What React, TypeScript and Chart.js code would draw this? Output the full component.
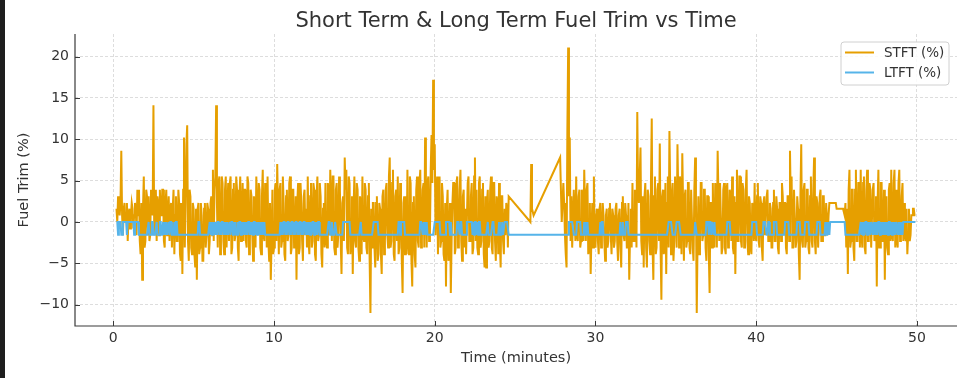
import React, { useEffect, useRef } from "react";
import { Chart, registerables } from "chart.js";

Chart.register(...registerables);

// LTFT low level (%)
const L = -1.56;

// Sampling of the two dense logging segments (minutes)
const SEG1_START = 0.2;
const SEG2_START = 28.0;
const SAMPLE_STEP = 0.05;

// STFT (%) samples, segment 1: 0.2 .. 24.6 min (one row = one minute)
const STFT_SEG1 = [
  1.6, 0.0, 3.1, 1.6, 0.8, 2.3, 8.6, 0.8, -1.6, 1.6, 2.3, 0.0, 0.8, 2.3, -2.3, 0.8, 1.6, -0.8, 0.8, 2.3,
  1.6, -0.8, 0.8, 2.3, 1.6, -1.6, 3.9, 0.8, 3.9, -2.3, -3.9, 2.3, -7.0, 1.6, 5.5, -3.1, -2.3, 3.9, 3.1, -1.6,
  3.1, -2.3, -1.6, 3.9, 3.1, 0.8, 14.1, -1.6, 1.6, 3.9, -2.3, 3.1, 2.3, -1.6, 3.9, 0.8, 0.8, 3.9, 3.9, -2.3,
  -3.1, 2.3, 3.9, -1.6, 0.8, 3.1, -2.3, 1.6, 2.3, -3.1, 1.6, 3.9, -3.9, 0.8, 3.1, -2.3, -2.3, 3.9, 2.3, -3.9,
  -4.7, 2.3, -6.3, 3.9, 10.2, -3.1, 2.3, 9.4, 11.7, -2.3, -4.7, 3.9, 3.1, -3.1, -3.9, 2.3, 1.6, -3.9, -5.5, 1.6,
  -7.0, 1.6, 2.3, -3.9, -3.1, 2.3, 0.8, -4.7, -4.7, 1.6, 2.3, -3.1, -1.6, 2.3, 1.6, -3.9, -2.3, 2.3, 3.1, -1.6,
  6.3, -2.3, 3.9, 5.5, 14.1, 2.3, -3.1, 4.7, 5.5, -3.9, -1.6, 5.5, 4.7, -2.3, -3.9, 3.9, 5.5, -3.1, 1.6, 4.7,
  -2.3, 4.7, 5.5, -3.9, -3.1, 3.9, 4.7, -2.3, -1.6, 5.5, 3.9, -3.1, -4.7, 3.1, 5.5, -2.3, 0.8, 4.7, -2.3, 3.9,
  3.9, -2.3, -3.1, 5.5, 4.7, -3.9, -2.3, 3.9, 3.1, -1.6, -4.7, 3.1, 2.3, -3.1, 5.5, 0.8, -1.6, 4.7, 3.9, -3.1,
  -3.9, 3.1, 6.3, -1.6, -2.3, 4.7, 3.1, -3.1, 5.5, -2.3, -4.7, 2.3, -7.0, -2.3, 3.9, -3.9, -3.1, 3.9, 4.7, -2.3,
  7.0, 1.6, -3.9, 3.9, 4.7, -3.1, -2.3, 5.5, 2.3, -3.9, -4.7, 3.1, 3.9, -2.3, -1.6, 4.7, 5.5, -3.9, -3.1, 3.9,
  3.9, -3.1, -2.3, 3.1, -7.0, 2.3, 4.7, -3.9, -3.1, 4.7, 2.3, -2.3, -4.7, 3.1, 3.9, -1.6, 1.6, -3.1, 5.5, -2.3,
  -3.9, 3.1, 4.7, -3.1, -2.3, 4.7, 3.9, -3.9, -4.7, 3.1, 5.5, -2.3, -1.6, 4.7, 3.1, -3.9, -5.5, 1.6, 2.3, -3.1,
  4.7, -2.3, -3.1, 4.7, 3.9, -1.6, 6.3, 2.3, -2.3, 5.5, 5.5, -3.1, -3.9, 3.9, 4.7, -3.1, -1.6, 5.5, 3.9, -2.3,
  -6.3, 2.3, 3.1, -2.3, 7.8, 3.9, 6.3, -3.1, -3.9, 5.5, 4.7, -3.9, -2.3, 3.1, -6.3, 1.6, 5.5, -2.3, -3.1, 4.7,
  3.9, -3.1, -4.7, 3.1, 2.3, -3.9, 5.5, -1.6, -2.3, 4.7, 3.9, -3.1, -3.9, 3.1, 4.7, -4.7, -11.0, 1.6, -3.1, 2.3,
  2.3, -3.1, -5.5, 2.3, 3.1, -4.7, -3.9, 2.3, 1.6, -3.9, -6.3, 3.1, 3.9, -3.9, -2.3, 3.9, 4.7, -1.6, -3.1, 5.5,
  7.8, -3.1, -2.3, 4.7, 6.3, -3.9, -4.7, 3.1, 3.9, -2.3, 5.5, -3.9, -3.1, 4.7, 2.3, -4.7, -8.6, 2.3, 3.1, -3.9,
  3.1, -3.9, 6.3, -2.3, -3.9, 5.5, 4.7, -4.7, -7.8, 2.3, 3.1, -3.9, -5.5, 3.9, 5.5, -2.3, -3.1, 4.7, 6.3, -3.1,
  -2.3, 3.9, 4.7, -3.1, 10.2, 2.3, -3.1, 4.7, 5.5, -2.3, -1.6, 6.3, 10.5, 4.7, 17.2, 6.3, 9.4, -1.6, 3.1, 5.5,
  -3.9, 3.1, 5.5, -3.1, -2.3, 4.7, 3.1, -3.9, -4.7, 2.3, -7.8, 1.6, 3.9, -4.7, -3.1, 2.3, -8.6, -2.3, 2.3, 4.7,
  4.7, -3.9, -3.1, 4.7, 5.5, -3.1, -2.3, 3.9, 6.3, -2.3, -4.7, 3.1, 3.9, -3.1, 1.6, -3.9, -3.9, 4.7, 5.5, -2.3,
  -2.3, 3.1, 4.7, -3.9, -3.1, 5.5, 7.8, -2.3, 3.9, -3.1, -3.9, 4.7, 5.5, -3.1, -2.3, 3.9, 4.7, -3.9, -5.5, 3.1,
  -5.5, 2.3, 3.9, -3.1, -2.3, 3.9, 5.5, -3.1, -3.9, 4.7, 4.7, -2.3, -4.7, 3.1, 2.3, -3.9, 4.7, -2.3, -5.5, 3.1,
  3.1, -2.3, -3.9, 1.6, -1.6, 2.3, 1.6, -3.1, 3.1,
];

// LTFT (%) samples, segment 1
const LTFT_SEG1 = [
  0, 0, L, 0, 0, 0, L, L, 0, 0, 0, 0, 0, L, 0, 0, 0, 0, 0, 0,
  0, 0, L, 0, 0, 0, 0, 0, L, L, L, L, L, L, L, L, L, L, L, L,
  0, L, L, L, 0, 0, L, L, L, L, 0, L, L, L, 0, 0, L, L, 0, L,
  0, L, 0, L, L, 0, L, 0, 0, L, L, L, 0, L, 0, 0, L, L, L, L,
  L, L, L, L, L, L, L, L, L, L, L, L, L, L, L, L, L, L, L, L,
  L, L, 0, 0, L, L, L, L, L, L, L, L, L, L, L, L, 0, L, 0, L,
  0, L, 0, L, 0, L, 0, 0, L, 0, L, 0, 0, L, 0, L, 0, L, 0, L,
  L, 0, L, 0, 0, L, 0, L, 0, L, L, 0, L, 0, 0, L, 0, L, 0, L,
  0, L, 0, L, 0, 0, L, 0, L, 0, L, 0, 0, L, 0, L, 0, L, 0, L,
  0, L, 0, L, 0, L, L, L, L, L, L, L, L, L, L, L, L, L, L, L,
  L, L, L, L, 0, L, 0, L, 0, 0, L, 0, L, 0, 0, L, 0, L, 0, 0,
  L, 0, L, 0, 0, L, 0, L, 0, 0, L, 0, L, 0, 0, L, 0, L, 0, L,
  0, L, 0, L, 0, 0, L, 0, L, 0, L, 0, 0, L, L, L, L, L, L, L,
  L, L, L, L, 0, 0, L, L, 0, L, L, L, 0, 0, L, L, L, L, L, L,
  L, L, 0, 0, 0, 0, 0, 0, 0, 0, 0, L, L, L, L, L, L, L, L, L,
  L, L, L, L, 0, L, L, L, L, L, L, L, L, L, L, L, L, L, L, L,
  0, 0, 0, 0, 0, 0, L, L, L, L, L, L, L, L, L, L, L, L, L, L,
  L, L, L, L, L, L, L, L, L, L, L, 0, 0, L, 0, 0, 0, 0, 0, L,
  L, L, L, L, L, L, L, L, L, L, L, L, L, L, L, L, L, L, 0, 0,
  0, L, 0, L, 0, L, 0, L, L, L, L, L, L, L, L, L, 0, 0, 0, 0,
  0, 0, 0, L, L, L, L, L, L, L, 0, 0, 0, 0, 0, L, 0, L, L, L,
  L, L, L, L, 0, 0, 0, L, 0, 0, L, L, L, L, L, L, 0, 0, 0, 0,
  0, 0, 0, L, 0, L, 0, 0, L, 0, L, 0, 0, L, L, L, L, L, L, L,
  L, L, 0, L, L, L, L, L, 0, 0, L, L, L, L, L, L, 0, L, L, L,
  0, L, L, 0, 0, 0, 0, 0, L,
];

// Sparse samples between the two segments
const GAP_TIMES = [25.95, 26.0, 26.05, 26.15, 27.8, 27.9];
const STFT_GAP = [0.0, 7.0, 1.6, 0.8, 7.8, 0.0];
const LTFT_GAP = [L, L, L, L, L, L];

// STFT (%) samples, segment 2: 28.0 .. 49.9 min (one row = one minute)
const STFT_SEG2 = [
  4.7, 2.3, -1.6, -3.9, -5.5, 10.9, 21.1, 3.1, 10.2, -2.3, 3.1, -3.1, -3.1, 3.9, 0.8, -2.3, 5.5, -1.6, -2.3, 3.1,
  3.9, -3.1, -2.3, 3.9, 3.1, -2.3, 6.3, 1.6, -2.3, 3.9, 4.7, -3.9, -3.1, 2.3, -6.3, -1.6, 2.3, -3.1, 5.5, -2.3,
  -3.1, 0.8, 1.6, -2.3, -3.9, 1.6, 2.3, -3.1, -1.6, 2.3, 0.8, -2.3, -4.7, 0.8, 1.6, -3.1, -2.3, 1.6, 2.3, -1.6,
  -3.9, 1.6, 0.8, -3.1, -2.3, 1.6, 2.3, -2.3, -4.7, 0.8, 1.6, -3.1, -5.5, 2.3, 3.1, -1.6, -2.3, 2.3, 0.8, -3.1,
  -3.1, 2.3, -7.0, -1.6, 1.6, -3.1, 4.7, -2.3, -2.3, 3.9, 3.1, -3.1, 13.3, 3.9, 2.3, 5.5, 9.0, -2.3, -3.9, 3.1,
  -5.5, 3.1, 4.7, -3.1, -5.5, 3.9, 3.1, -2.3, -3.9, 4.7, 12.5, -3.1, -7.0, 3.1, 5.5, -3.9, -3.1, 3.9, 4.7, -2.3,
  9.5, -3.1, -9.4, 3.1, 3.9, -3.9, -3.1, 4.7, -6.3, 2.3, 5.5, -3.1, 11.0, 3.9, -3.9, 3.1, 4.7, -4.7, -2.3, 5.5,
  5.5, -3.1, 9.4, 3.1, -3.1, 5.5, 4.7, -3.9, 8.3, 2.3, -4.7, 3.1, 3.9, -3.1, -2.3, 4.7, 4.7, -3.1, -3.9, 3.9,
  3.9, -3.1, -4.7, 3.9, 7.8, 2.3, -11.0, -2.3, 3.1, -3.9, -3.1, 4.7, 4.7, -2.3, -1.6, 3.9, 3.9, -3.1, -4.7, 3.1,
  3.1, -3.9, -8.6, 2.3, 2.3, -3.1, 4.7, -2.3, -3.1, 4.7, 3.9, -3.1, 8.6, 3.1, -2.3, 4.7, 4.7, -3.9, -3.1, 3.9,
  4.7, -3.1, -3.9, 3.9, 4.7, -3.1, -2.3, 3.9, 3.1, -2.3, 5.5, -3.1, -3.9, 3.1, -6.3, 2.3, 6.3, -2.3, -2.3, 5.5,
  5.5, -2.3, -3.1, 4.7, 3.9, -3.1, -1.6, 3.9, 6.3, -2.3, -3.9, 3.1, 2.3, -3.1, -3.9, 2.3, 1.6, -2.3, 4.7, -1.6,
  -2.3, 3.1, 4.7, -2.3, -3.1, 3.1, 2.3, -3.1, -4.7, 2.3, 3.1, -1.6, -1.6, 3.1, 3.9, -2.3, -2.3, 2.3, 1.6, -3.1,
  -3.1, 2.3, 3.9, -2.3, -2.3, 3.1, 1.6, -3.1, -3.9, 2.3, 2.3, -2.3, 4.7, 3.1, -1.6, 2.3, 2.3, -3.1, -3.9, 3.1,
  3.1, -2.3, 8.6, 2.3, 5.5, -3.1, -3.1, 3.9, 3.9, -3.1, -2.3, 3.1, 1.6, -3.9, -7.0, 3.1, 9.4, -2.3, -3.1, 3.9,
  4.7, -3.1, -2.3, 3.9, 3.9, -3.1, -3.9, 3.1, 5.5, -2.3, -3.1, 3.9, 7.8, -2.3, -3.9, 3.1, 2.3, -3.1, -3.1, 3.1,
  3.9, -2.3, -2.3, 3.1, 3.1, -1.6, -1.6, 2.3, 2.3, -1.6, 0.8, 2.3, 2.3, 2.3, 2.3, 2.3, 2.3, 2.3, 2.3, 2.3,
  1.6, 1.6, 1.6, 1.6, 1.6, 1.6, 1.6, 1.6, 1.6, 1.6, 0.8, 2.3, -3.1, 1.6, -6.3, 3.9, 6.3, -3.1, -2.3, 3.9,
  3.9, -3.1, -4.7, 3.9, 6.3, -2.3, -2.3, 4.7, 4.7, -3.1, 6.3, -1.6, -3.1, 4.7, 5.5, -3.1, -3.9, 3.9, 6.3, -2.3,
  -2.3, 4.7, 3.9, -3.1, -3.1, 3.9, 4.7, -2.3, -1.6, 3.1, -7.8, 2.3, 6.3, -3.1, -3.1, 4.7, 4.7, -2.3, -2.3, 3.9,
  -7.0, 2.3, 3.1, -3.1, -3.9, 3.9, 4.7, -2.3, 6.3, -1.6, -2.3, 4.7, 6.3, -3.1, 3.9, -2.3, -3.1, 4.7, 6.3, -2.3,
  -1.6, 3.1, 4.7, -2.3, 2.3, -1.6, -2.3, 1.6, -3.9, -1.6, 1.6, -2.3, -1.6, 0.8, 0.8, 1.6, 1.6, 0.8, 0.8,
];

// LTFT (%) samples, segment 2
const LTFT_SEG2 = [
  L, L, L, L, L, L, L, 0, 0, 0, 0, 0, 0, L, L, L, L, 0, 0, 0,
  0, 0, L, L, L, L, 0, L, 0, L, 0, L, L, L, L, L, L, L, L, L,
  L, L, L, L, L, L, 0, L, 0, 0, L, L, L, L, L, L, L, L, L, L,
  L, L, L, L, L, L, L, L, L, L, L, 0, L, L, 0, L, L, L, 0, 0,
  0, L, L, L, L, L, L, L, L, L, L, L, L, L, L, L, L, L, L, L,
  L, L, L, L, L, L, L, L, L, L, L, L, L, L, L, L, L, L, L, L,
  L, L, L, L, L, L, L, L, L, L, L, 0, 0, 0, 0, 0, L, L, L, L,
  L, 0, 0, 0, 0, 0, L, L, L, L, L, L, L, L, L, L, L, L, L, L,
  L, L, L, L, 0, 0, L, L, L, L, L, L, L, L, L, L, L, L, 0, 0,
  0, L, 0, 0, L, 0, 0, L, 0, L, L, L, L, L, L, L, L, L, L, L,
  L, L, L, L, 0, 0, 0, 0, L, L, L, L, L, L, L, L, L, L, L, L,
  L, L, L, L, L, L, L, L, L, L, L, L, L, L, L, 0, 0, 0, 0, 0,
  0, L, L, L, L, L, L, L, L, 0, 0, 0, 0, L, L, 0, 0, L, L, L,
  L, L, 0, 0, 0, 0, L, L, L, L, L, L, L, L, L, L, 0, 0, 0, 0,
  0, L, L, L, L, L, L, L, L, L, L, 0, 0, 0, 0, L, L, L, L, L,
  L, 0, 0, 0, 0, 0, L, L, L, L, L, L, L, L, L, L, 0, 0, 0, 0,
  L, L, L, L, L, L, 0, L, 0, L, 0, L, 0, 0, 0, 0, 0, 0, 0, 0,
  0, 0, 0, 0, 0, 0, 0, 0, 0, 0, 0, L, L, L, L, L, L, L, L, L,
  L, L, L, L, L, L, L, L, L, L, 0, L, 0, L, 0, L, 0, 0, L, 0,
  L, 0, L, 0, 0, L, 0, L, 0, L, 0, L, 0, 0, L, 0, L, 0, L, 0,
  L, 0, L, 0, L, 0, 0, L, 0, L, 0, L, 0, L, 0, 0, L, 0, L, 0,
  L, 0, L, 0, 0, 0, 0, 0, 0, 0, 0, 0, 0, 0, 0, 0, 0, 0, 0,
];

const X_TICKS = [0, 10, 20, 30, 40, 50];
const Y_TICKS = [-10, -5, 0, 5, 10, 15, 20];

const TITLE = "Short Term & Long Term Fuel Trim vs Time";
const X_LABEL = "Time (minutes)";
const Y_LABEL = "Fuel Trim (%)";
const SERIES_NAMES = ["STFT (%)", "LTFT (%)"];
const COLORS = ["#E69F00", "#56B4E9"];

const FONT = "'DejaVu Sans', 'Liberation Sans', sans-serif";
const TEXT = "#333333";
const SPINE = "#3a3a3a";

function buildPoints(which: "s" | "l") {
  const pts: { x: number; y: number }[] = [];
  const s1 = which === "s" ? STFT_SEG1 : LTFT_SEG1;
  const g = which === "s" ? STFT_GAP : LTFT_GAP;
  const s2 = which === "s" ? STFT_SEG2 : LTFT_SEG2;
  s1.forEach((v, i) => pts.push({ x: +(SEG1_START + i * SAMPLE_STEP).toFixed(3), y: v }));
  g.forEach((v, i) => pts.push({ x: GAP_TIMES[i], y: v }));
  s2.forEach((v, i) => pts.push({ x: +(SEG2_START + i * SAMPLE_STEP).toFixed(3), y: v }));
  return pts;
}

const decorPlugin = {
  id: "decor",
  beforeDraw(chart: any) {
    const ctx = chart.ctx;
    ctx.save();
    ctx.fillStyle = "#ffffff";
    ctx.fillRect(0, 0, chart.width, chart.height);
    ctx.fillStyle = "#1e1e1e";
    ctx.fillRect(0, 0, 5, chart.height);
    ctx.restore();
  },
  afterDraw(chart: any) {
    const ctx = chart.ctx;
    const { left, right, top, bottom } = chart.chartArea;
    const xs = chart.scales.x;
    const ys = chart.scales.y;
    ctx.save();
    // spines (left & bottom)
    ctx.strokeStyle = SPINE;
    ctx.lineWidth = 1.2;
    ctx.beginPath();
    ctx.moveTo(left, top);
    ctx.lineTo(left, bottom);
    ctx.lineTo(right, bottom);
    ctx.stroke();
    // inward ticks
    ctx.lineWidth = 1;
    X_TICKS.forEach((t) => {
      const px = Math.round(xs.getPixelForValue(t)) + 0.5;
      ctx.beginPath();
      ctx.moveTo(px, bottom);
      ctx.lineTo(px, bottom - 5);
      ctx.stroke();
    });
    Y_TICKS.forEach((t) => {
      const py = Math.round(ys.getPixelForValue(t)) + 0.5;
      ctx.beginPath();
      ctx.moveTo(left, py);
      ctx.lineTo(left + 5, py);
      ctx.stroke();
    });
    // title
    ctx.fillStyle = TEXT;
    ctx.font = `21px ${FONT}`;
    ctx.textAlign = "center";
    ctx.textBaseline = "alphabetic";
    ctx.fillText(TITLE, (left + right) / 2, 26.5);
    // legend
    const bx = 841, by = 42, bw = 108, bh = 43, r = 3;
    ctx.beginPath();
    ctx.moveTo(bx + r, by);
    ctx.lineTo(bx + bw - r, by);
    ctx.arcTo(bx + bw, by, bx + bw, by + r, r);
    ctx.lineTo(bx + bw, by + bh - r);
    ctx.arcTo(bx + bw, by + bh, bx + bw - r, by + bh, r);
    ctx.lineTo(bx + r, by + bh);
    ctx.arcTo(bx, by + bh, bx, by + bh - r, r);
    ctx.lineTo(bx, by + r);
    ctx.arcTo(bx, by, bx + r, by, r);
    ctx.closePath();
    ctx.fillStyle = "rgba(255,255,255,0.85)";
    ctx.fill();
    ctx.strokeStyle = "#d0d0d0";
    ctx.lineWidth = 1;
    ctx.stroke();
    ctx.font = `13.5px ${FONT}`;
    ctx.textAlign = "left";
    ctx.textBaseline = "middle";
    SERIES_NAMES.forEach((name, i) => {
      const y = 52.5 + i * 20;
      ctx.strokeStyle = COLORS[i];
      ctx.lineWidth = 2;
      ctx.beginPath();
      ctx.moveTo(845, y);
      ctx.lineTo(874, y);
      ctx.stroke();
      ctx.fillStyle = TEXT;
      ctx.fillText(name, 884, y + 0.5);
    });
    ctx.restore();
  },
};

export default function App() {
  const ref = useRef<HTMLCanvasElement | null>(null);

  useEffect(() => {
    if (!ref.current) return;
    const chart = new Chart(ref.current, {
      type: "line",
      data: {
        datasets: [
          {
            label: SERIES_NAMES[0],
            data: buildPoints("s"),
            borderColor: COLORS[0],
            backgroundColor: COLORS[0],
            borderWidth: 2,
            pointRadius: 0,
            tension: 0,
            order: 1,
          },
          {
            label: SERIES_NAMES[1],
            data: buildPoints("l"),
            borderColor: COLORS[1],
            backgroundColor: COLORS[1],
            borderWidth: 2,
            pointRadius: 0,
            tension: 0,
            order: 0,
          },
        ],
      },
      options: {
        animation: false,
        responsive: false,
        devicePixelRatio: 1,
        layout: { padding: { left: 0, right: 8, top: 34, bottom: 0 } },
        plugins: {
          legend: { display: false },
          title: { display: false },
          tooltip: { enabled: false },
        },
        scales: {
          x: {
            type: "linear",
            min: -2.38,
            max: 52.49,
            afterBuildTicks: (s: any) => {
              s.ticks = X_TICKS.map((v) => ({ value: v }));
            },
            afterFit: (s: any) => {
              s.height = 52;
            },
            ticks: {
              font: { family: FONT, size: 14 },
              color: TEXT,
              padding: 4,
              maxRotation: 0,
              autoSkip: false,
            },
            grid: { color: "#d4d4d4", lineWidth: 0.8, drawTicks: false },
            border: { display: false, dash: [3, 2] },
            title: {
              display: true,
              text: X_LABEL,
              font: { family: FONT, size: 14.5 },
              color: TEXT,
              padding: { top: 0, bottom: 11.3 },
            },
          },
          y: {
            type: "linear",
            min: -12.58,
            max: 22.73,
            afterBuildTicks: (s: any) => {
              s.ticks = Y_TICKS.map((v) => ({ value: v }));
            },
            afterFit: (s: any) => {
              s.width = 75;
            },
            ticks: {
              font: { family: FONT, size: 14 },
              color: TEXT,
              padding: 6,
              autoSkip: false,
              callback: (v: any) => (Number(v) < 0 ? "\u2212" + Math.abs(Number(v)) : String(v)),
            },
            grid: { color: "#d4d4d4", lineWidth: 0.8, drawTicks: false },
            border: { display: false, dash: [3, 2] },
            title: {
              display: true,
              text: Y_LABEL,
              font: { family: FONT, size: 14.5 },
              color: TEXT,
              padding: { top: 15.2, bottom: 0 },
            },
          },
        },
      },
      plugins: [decorPlugin],
    });
    return () => chart.destroy();
  }, []);

  return (
    <div style={{ position: "absolute", left: 0, top: 0, width: 965, height: 378 }}>
      <canvas ref={ref} width={965} height={378} style={{ display: "block", width: 965, height: 378 }} />
    </div>
  );
}
